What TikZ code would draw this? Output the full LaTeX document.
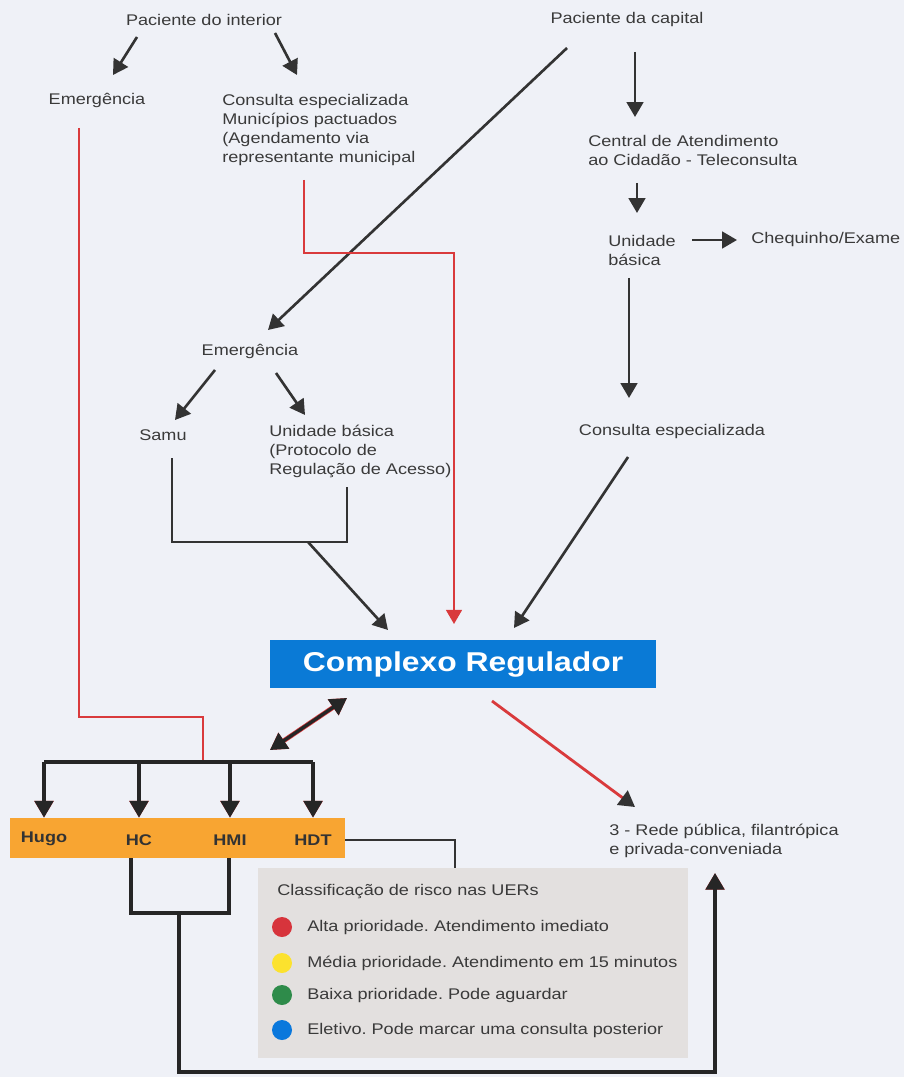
\documentclass[tikz,border=0pt]{standalone}
\usepackage{fontspec}
\setmainfont{Liberation Sans}[FakeStretch=1.17]
\frenchspacing
\usetikzlibrary{arrows.meta, positioning, calc}
\definecolor{bgcol}{HTML}{EFF1F7}
\definecolor{txtcol}{HTML}{3A3A3A}
\definecolor{arrcol}{HTML}{333333}
\definecolor{redcol}{HTML}{D93A3C}
\definecolor{regblue}{HTML}{0A7AD6}
\definecolor{hosporange}{HTML}{F8A532}
\definecolor{legendgray}{HTML}{E3E0DF}
\definecolor{dotred}{HTML}{D7343C}
\definecolor{dotyellow}{HTML}{FCE22E}
\definecolor{dotgreen}{HTML}{2E8B4A}
\definecolor{dotblue}{HTML}{0A78DC}
\tikzset{
x=0.02cm, y=-0.02cm,
>={Triangle[width=9.5pt,length=8.5pt]},
lbl/.style={text=txtcol, font=\fontsize{8.8}{10.8}\selectfont, inner sep=0pt},
lblleft/.style={lbl, align=left, anchor=west},
plain/.style={draw=arrcol, line width=1.5pt},
arr/.style={plain, ->},
redline/.style={draw=redcol, line width=1.1pt},
redarr/.style={redline, -{Triangle[width=9pt,length=8pt]}},
hosp/.style={%
    draw=black!85, line width=1.9pt,
    preaction={draw=redcol, line width=2.7pt}
},
hosparr/.style={hosp, -{Triangle[width=10.5pt,length=9.5pt]}},
hospname/.style={text=black!80, font=\bfseries\fontsize{8.8}{10}\selectfont, inner sep=0pt},
dot/.style={circle, minimum size=0.4cm, inner sep=0pt},
}

\begin{document}
\begin{tikzpicture}

\path[fill=bgcol, use as bounding box] (0,0) rectangle (904,1077);

% interior
\node[lbl] (pint) at (204,20) {Paciente do interior};
\node[lbl] (emerg1) at (97,100) {Emergência};
\node[lblleft] (cons1) at (222,130) {Consulta especializada\\Municípios pactuados\\(Agendamento via\\representante municipal};

% capital
\node[lbl] (pcap) at (627,20) {Paciente da capital};
\node[lblleft] (central) at (588,150) {Central de Atendimento\\ao Cidadão - Teleconsulta};
\node[lblleft] (ubas1) at (608,250) {Unidade\\básica};
\node[lblleft] (cheq) at (751,240) {Chequinho/Exame};
\node[lbl] (cons2) at (672,432) {Consulta especializada};

% emergencia da capital
\node[lbl] (emerg2) at (250,351) {Emergência};
\node[lbl] (samu) at (163,435) {Samu};
\node[lblleft] (ubas2) at (269,451) {Unidade básica\\(Protocolo de\\Regulação de Acesso)};

\node[fill=regblue, text=white, minimum width=7.72cm, minimum height=0.96cm,
    text height=11.5pt, text depth=3pt,
    font=\bfseries\fontsize{15.5}{18}\selectfont] (creg) at (463,664) {Complexo Regulador};

\node[fill=hosporange, minimum width=6.7cm, minimum height=0.8cm] (hbar) at (177.5,838) {};
\node[hospname] (hugo) at (44,839) {Hugo};
\node[hospname] (hc) at (139,840) {HC};
\node[hospname] (hmi) at (230,840) {HMI};
\node[hospname] (hdt) at (313,840) {HDT};

\node[lblleft] (rede) at (609,841) {3 - Rede pública, filantrópica\\e privada-conveniada};

% legenda
\node[fill=legendgray, minimum width=8.6cm, minimum height=3.8cm] (legend) at (473,963) {};
\node[lbl, anchor=west] (ltitle) at (277,892) {Classificação de risco nas UERs};
\foreach \dn/\dc/\dy/\dt in {r/dotred/927/{Alta prioridade. Atendimento imediato},
    y/dotyellow/963/{Média prioridade. Atendimento em 15 minutos},
    g/dotgreen/995/{Baixa prioridade. Pode aguardar},
    b/dotblue/1030/{Eletivo. Pode marcar uma consulta posterior}}{
    \node[dot, fill=\dc] (dot\dn) at (282,\dy) {};
    \node[lbl, anchor=west] (ltext\dn) at (307,\dy) {\dt};
}

% pontos dos conectores
\coordinate (a1s) at (137,37);
\coordinate (a1e) at (113,75);
\coordinate (a2s) at (275,33);
\coordinate (a2e) at (297,75);
\coordinate (d1s) at (567,48);
\coordinate (d1e) at (268,330);
\coordinate (a3s) at (635,52);
\coordinate (a3e) at (635,117);
\coordinate (a4s) at (637,183);
\coordinate (a4e) at (637,213);
\coordinate (a5s) at (692,240);
\coordinate (a6s) at (629,278);
\coordinate (a6e) at (629,398);
\coordinate (a7s) at (215,370);
\coordinate (a7e) at (175,420);
\coordinate (a8s) at (276,373);
\coordinate (a8e) at (305,415);
\coordinate (bl) at (172,458);
\coordinate (br) at (347,487);
\coordinate (bj) at (308,542);
\coordinate (bje) at (388,630);
\coordinate (r1s) at (304,180);
\coordinate (r1m) at (454,253);
\coordinate (r1e) at (454,624);
\coordinate (c2s) at (628,457);
\coordinate (c2e) at (514,628);
\coordinate (r2s) at (79,128);
\coordinate (r2m) at (203,717);
\coordinate (hub) at (203,762);
\coordinate (dbs) at (347,698);
\coordinate (dbe) at (270,750);
\coordinate (hl) at (455,868);
\coordinate (hcb) at (131,858);
\coordinate (hmib) at (229,858);
\coordinate (hj) at (179,913);
\coordinate (bc) at (179,1072);
\coordinate (rtip) at (715,873);
\coordinate (ros) at (492,701);
\coordinate (roe) at (635,807);

\draw[arr] (a1s) -- (a1e);
\draw[arr] (a2s) -- (a2e);
\draw[arr] (d1s) -- (d1e);
\draw[arr] (a3s) -- (a3e);
\draw[arr] (a4s) -- (a4e);
\draw[arr] (a5s) -- ([xshift=-0.28cm]cheq.west);
\draw[arr] (a6s) -- (a6e);
\draw[arr] (a7s) -- (a7e);
\draw[arr] (a8s) -- (a8e);
\draw[plain] (bl) |- (bj) -| (br);
\draw[arr] (bj) -- (bje);
\draw[redarr] (r1s) |- (r1m) -- (r1e);
\draw[arr] (c2s) -- (c2e);

% hospitais
\draw[redline] (r2s) |- (r2m) -- (hub);
\draw[hosp] (hugo |- hub) -- (hdt |- hub);
\foreach \hn in {hugo,hc,hmi,hdt}
    \draw[hosparr] (\hn |- hub) -- (\hn |- hbar.north);
\draw[hosp, {Triangle[width=10.5pt,length=9.5pt]}-{Triangle[width=10.5pt,length=9.5pt]}] (dbs) -- (dbe);
\draw[plain, line width=1.2pt] (hbar.east |- hdt) -| (hl);
\draw[hosp] (hcb) |- (hj) -| (hmib);
\draw[hosparr] (hj) -- (bc) -| (rtip);
\draw[redline, line width=1.6pt, -{Triangle[width=10pt,length=9pt,color=arrcol]}] (ros) -- (roe);

\end{tikzpicture}
\end{document}
